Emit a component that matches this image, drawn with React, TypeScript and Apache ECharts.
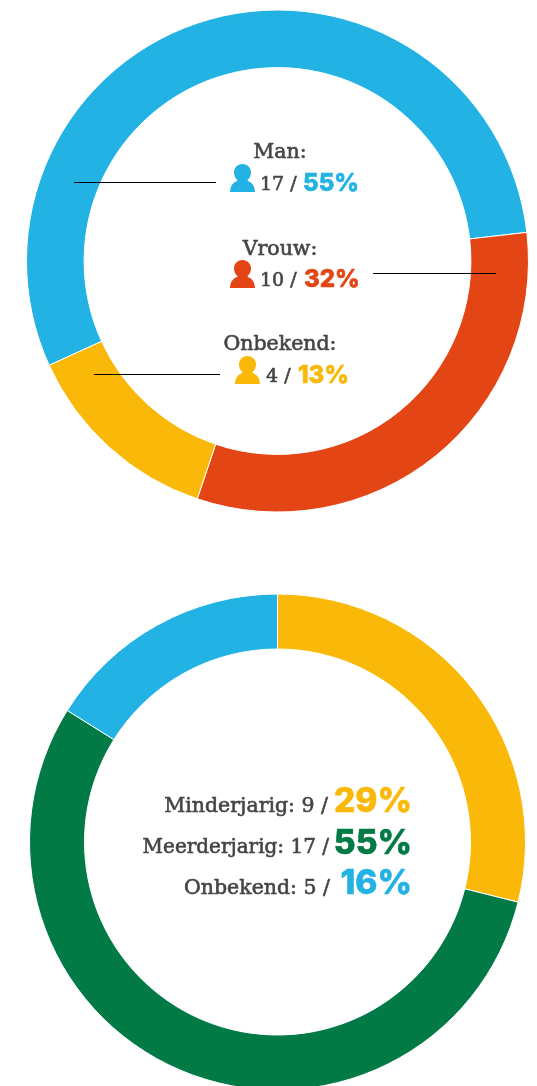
import React, { useEffect, useRef } from "react";
import * as echarts from "echarts";

const genderNames = ["Man", "Vrouw", "Onbekend"];
const genderCounts = [17, 10, 4];
const genderShares = [55, 32, 13];
const genderPct = ["55%", "32%", "13%"];
const genderColors = ["#22B2E4", "#E34515", "#FAB808"];

const ageNames = ["Minderjarig", "Meerderjarig", "Onbekend"];
const ageCounts = [9, 17, 5];
const ageShares = [28.9, 55, 16.1];
const agePct = ["29%", "55%", "16%"];
const ageColors = ["#FAB808", "#027A46", "#22B2E4"];

const SLAB = "'DejaVu Serif', serif";
const SANS = "Inter, 'Open Sans', sans-serif";
const INK = "#444444";

echarts.graphic.registerShape(
  "person",
  echarts.graphic.extendPath(
    "M12.5 0C17.6 0 21 3.8 21 8.6C21 11.8 19.6 14.4 17.6 16C17.6 16.8 18 17.2 18.8 17.6C22.6 19 24.6 22.4 25 28L0 28C0.4 22.4 2.4 19 6.2 17.6C7 17.2 7.4 16.8 7.4 16C5.4 14.4 4 11.8 4 8.6C4 3.8 7.4 0 12.5 0Z",
    {}
  ) as any
);

const pie = (
  names: string[],
  values: number[],
  colors: string[],
  center: number[],
  radius: number[],
  startAngle: number
) => ({
  type: "pie",
  center,
  radius,
  startAngle,
  silent: true,
  label: { show: false },
  labelLine: { show: false },
  itemStyle: { borderColor: "#fff", borderWidth: 1 },
  data: names.map((name, i) => ({ name, value: values[i], itemStyle: { color: colors[i] } })),
});

const text = (t: string, x: number, y: number, size: number, fill: string, align: string, font: string, weight: any, stroke = 0.6) => ({
  type: "text",
  x,
  y,
  z: 10,
  style: {
    text: t,
    x: 0,
    y: 0,
    fill,
    fontSize: size,
    lineHeight: Math.round(size * 0.9),
    fontFamily: font,
    fontWeight: weight,
    align,
    verticalAlign: "middle",
    stroke: fill,
    lineWidth: stroke,
  },
});

const hline = (x1: number, x2: number, y: number) => ({
  type: "line",
  z: 9,
  shape: { x1, y1: y + 0.5, x2, y2: y + 0.5 },
  style: { stroke: "#000", lineWidth: 1 },
});

const person = (x: number, y: number, fill: string) => ({ type: "person", x, y, z: 10, style: { fill } });

const genderRows = [
  { nameY: 151, rowY: 183, lineY: 182, line: [74, 216], iconX: 230, iconY: 164, countX: 260, pctX: 303 },
  { nameY: 248, rowY: 279, lineY: 273, line: [373, 496], iconX: 230, iconY: 260, countX: 260, pctX: 304 },
  { nameY: 343, rowY: 375, lineY: 374, line: [94, 220], iconX: 235, iconY: 356, countX: 266, pctX: 298 },
];
const ageRowY = [805, 846, 887];
const agePctY = [800, 842, 882];
const ageTextRight = [328, 329, 330];
const ageTextSize = [20.5, 20, 20.5];

export default function App() {
  const ref = useRef<HTMLDivElement>(null);
  useEffect(() => {
    const chart = echarts.init(ref.current!, undefined, { renderer: "svg" });
    const graphics: any[] = [];
    genderRows.forEach((r, i) => {
      graphics.push(hline(r.line[0], r.line[1], r.lineY));
      graphics.push(text(genderNames[i] + ":", 280, r.nameY, 20.5, INK, "center", SLAB, 500));
      graphics.push(person(r.iconX, r.iconY, genderColors[i]));
      graphics.push(text(genderCounts[i] + " /", r.countX, r.rowY, 19, INK, "left", SLAB, 500));
      graphics.push(text(genderPct[i], r.pctX, r.rowY - 1, 24, genderColors[i], "left", SANS, 800, 0.6));
    });
    ageNames.forEach((n, i) => {
      graphics.push(text(`${n}: ${ageCounts[i]} /`, ageTextRight[i], ageRowY[i], ageTextSize[i], INK, "right", SLAB, 500));
      graphics.push(text(agePct[i], 412, agePctY[i], 33.5, ageColors[i], "right", SANS, 800, 0.6));
    });
    chart.setOption({
      animation: false,
      series: [
        pie(genderNames, genderShares, genderColors, [277.5, 261], [193.4, 251], 204.55),
        pie(ageNames, ageShares, ageColors, [277.5, 842], [193, 248], 90),
      ],
      graphic: graphics,
    });
    return () => chart.dispose();
  }, []);
  return <div ref={ref} style={{ position: "fixed", left: 0, top: 0, width: 537, height: 1086 }} />;
}
